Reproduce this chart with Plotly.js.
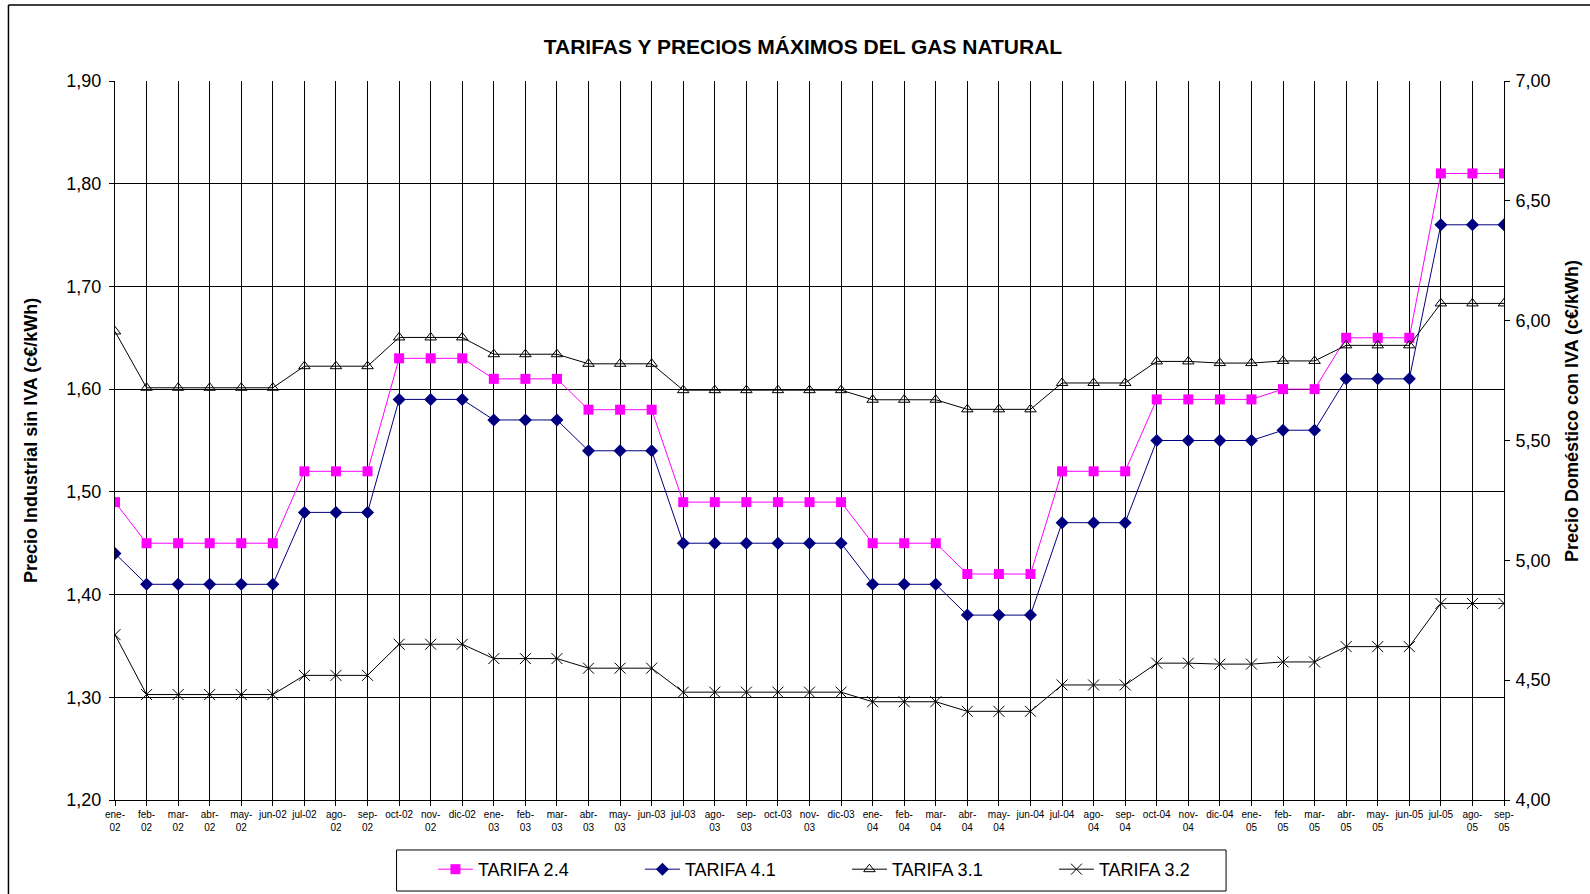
<!DOCTYPE html>
<html>
<head>
<meta charset="utf-8">
<script src="https://cdn.plot.ly/plotly-3.0.1.min.js"></script>
<style>html,body{margin:0;padding:0;background:#fff;}#chart{width:1590px;height:894px;}</style>
</head>
<body>
<div id="chart"></div>
<script>
const months = [
  "ene-<br>02","feb-<br>02","mar-<br>02","abr-<br>02","may-<br>02","jun-02","jul-02","ago-<br>02","sep-<br>02","oct-02","nov-<br>02","dic-02",
  "ene-<br>03","feb-<br>03","mar-<br>03","abr-<br>03","may-<br>03","jun-03","jul-03","ago-<br>03","sep-<br>03","oct-03","nov-<br>03","dic-03",
  "ene-<br>04","feb-<br>04","mar-<br>04","abr-<br>04","may-<br>04","jun-04","jul-04","ago-<br>04","sep-<br>04","oct-04","nov-<br>04","dic-04",
  "ene-<br>05","feb-<br>05","mar-<br>05","abr-<br>05","may-<br>05","jun-05","jul-05","ago-<br>05","sep-<br>05"
];
const tarifa24 = [
  1.49, 1.45, 1.45, 1.45, 1.45, 1.45, 1.52, 1.52, 1.52, 1.63, 1.63, 1.63,
  1.61, 1.61, 1.61, 1.58, 1.58, 1.58, 1.49, 1.49, 1.49, 1.49, 1.49, 1.49,
  1.45, 1.45, 1.45, 1.42, 1.42, 1.42, 1.52, 1.52, 1.52, 1.59, 1.59, 1.59,
  1.59, 1.60, 1.60, 1.65, 1.65, 1.65, 1.81, 1.81, 1.81
];
const tarifa41 = [
  1.44, 1.41, 1.41, 1.41, 1.41, 1.41, 1.48, 1.48, 1.48, 1.59, 1.59, 1.59,
  1.57, 1.57, 1.57, 1.54, 1.54, 1.54, 1.45, 1.45, 1.45, 1.45, 1.45, 1.45,
  1.41, 1.41, 1.41, 1.38, 1.38, 1.38, 1.47, 1.47, 1.47, 1.55, 1.55, 1.55,
  1.55, 1.56, 1.56, 1.61, 1.61, 1.61, 1.76, 1.76, 1.76
];
const tarifa31 = [
  5.955, 5.72, 5.72, 5.72, 5.72, 5.72, 5.81, 5.81, 5.81, 5.93, 5.93, 5.93,
  5.86, 5.86, 5.86, 5.82, 5.82, 5.82, 5.71, 5.71, 5.71, 5.71, 5.71, 5.71,
  5.67, 5.67, 5.67, 5.63, 5.63, 5.63, 5.74, 5.74, 5.74, 5.83, 5.83, 5.823,
  5.823, 5.832, 5.832, 5.897, 5.897, 5.897, 6.072, 6.072, 6.072
];
const tarifa32 = [
  4.69, 4.44, 4.44, 4.44, 4.44, 4.44, 4.52, 4.52, 4.52, 4.65, 4.65, 4.65,
  4.59, 4.59, 4.59, 4.55, 4.55, 4.55, 4.45, 4.45, 4.45, 4.45, 4.45, 4.45,
  4.41, 4.41, 4.41, 4.37, 4.37, 4.37, 4.48, 4.48, 4.48, 4.571, 4.571, 4.567,
  4.567, 4.576, 4.576, 4.64, 4.64, 4.64, 4.82, 4.82, 4.82
];
const titleText = "TARIFAS Y PRECIOS MÁXIMOS DEL GAS NATURAL";
const leftTitle = "Precio Industrial sin IVA (c€/kWh)";
const rightTitle = "Precio Doméstico con IVA (c€/kWh)";

const FONT = "Arial, 'Liberation Sans', sans-serif";

const traces = [
  {x: months, y: tarifa24, name: "TARIFA 2.4", type: "scatter", mode: "lines+markers", yaxis: "y",
   line: {color: "#FF00FF", width: 1}, marker: {symbol: "square", size: 10, color: "#FF00FF"}},
  {x: months, y: tarifa41, name: "TARIFA 4.1", type: "scatter", mode: "lines+markers", yaxis: "y",
   line: {color: "#000080", width: 1}, marker: {symbol: "diamond", size: 10, color: "#000080"}},
  {x: months, y: tarifa31, name: "TARIFA 3.1", type: "scatter", mode: "lines+markers", yaxis: "y2",
   line: {color: "#000000", width: 1}, marker: {symbol: "triangle-up-open", size: 10, color: "#000000", line: {width: 1}}},
  {x: months, y: tarifa32, name: "TARIFA 3.2", type: "scatter", mode: "lines+markers", yaxis: "y2",
   line: {color: "#000000", width: 1}, marker: {symbol: "x-thin-open", size: 11, color: "#000000", line: {width: 1, color: "#000000"}}}
];

const layout = {
  width: 1590, height: 894,
  margin: {l: 115, r: 86, t: 81, b: 94, pad: 0, autoexpand: false},
  paper_bgcolor: "#ffffff", plot_bgcolor: "#ffffff",
  separators: ",.",
  font: {family: FONT, color: "#000"},
  showlegend: true,
  title: {text: "<b>" + titleText + "</b>", font: {family: FONT, size: 21, color: "#000"},
          xref: "paper", x: 0.4953, xanchor: "center", yref: "container", y: 0.948, yanchor: "middle"},
  xaxis: {
    type: "category", range: [0, 44], showgrid: true, gridcolor: "#000", gridwidth: 1,
    showline: true, linecolor: "#000", linewidth: 1, ticks: "outside", ticklen: 5, tickcolor: "#000",
    ticklabelstandoff: 0,
    tickfont: {family: FONT, size: 10, color: "#000"}, tickangle: 0, zeroline: false, automargin: false
  },
  yaxis: {
    range: [1.2, 1.9], dtick: 0.1, tick0: 1.2, tickformat: ".2f", showgrid: true, gridcolor: "#000", gridwidth: 1,
    showline: true, linecolor: "#000", linewidth: 1, ticks: "outside", ticklen: 5, tickcolor: "#000",
    ticklabelstandoff: 4,
    tickfont: {family: FONT, size: 18, color: "#000"}, zeroline: false, automargin: false
  },
  yaxis2: {
    overlaying: "y", side: "right", range: [4, 7], dtick: 0.5, tick0: 4, tickformat: ".2f", showgrid: false,
    showline: true, linecolor: "#000", linewidth: 1, ticks: "outside", ticklen: 5, tickcolor: "#000",
    ticklabelstandoff: 2,
    tickfont: {family: FONT, size: 18, color: "#000"}, zeroline: false, automargin: false
  },
  annotations: [
    {text: "<b>" + leftTitle + "</b>", xref: "paper", yref: "paper", x: -0.0609, y: 0.5,
     xanchor: "center", yanchor: "middle", textangle: -90, showarrow: false,
     font: {family: FONT, size: 18, color: "#000"}},
    {text: "<b>" + rightTitle + "</b>", xref: "paper", yref: "paper", x: 1.04896, y: 0.541,
     xanchor: "center", yanchor: "middle", textangle: -90, showarrow: false,
     font: {family: FONT, size: 18, color: "#000"}}
  ],
  legend: {
    orientation: "h", xref: "paper", yref: "paper", x: 0.2289, xanchor: "left", y: -0.0709, yanchor: "top",
    borderwidth: 0, bgcolor: "rgba(0,0,0,0)",
    font: {family: FONT, size: 18, color: "#000"}, entrywidth: 157, entrywidthmode: "pixels", itemwidth: 35,
    traceorder: "normal"
  },
  shapes: [
    {type: "rect", xref: "paper", yref: "paper", x0: 0.2027, x1: 0.7999, y0: -0.0695, y1: -0.1266,
     line: {color: "#000", width: 1}, fillcolor: "rgba(0,0,0,0)"},
    {type: "line", xref: "paper", yref: "paper", x0: -0.0767, x1: 1.07, y0: 1.1057, y1: 1.1057, line: {color: "#000", width: 1.5}},
    {type: "line", xref: "paper", yref: "paper", x0: -0.0767, x1: -0.0767, y0: 1.1057, y1: -0.14, line: {color: "#000", width: 1.5}}
  ]
};

Plotly.newPlot("chart", traces, layout, {displayModeBar: false, staticPlot: true});
</script>
</body>
</html>
